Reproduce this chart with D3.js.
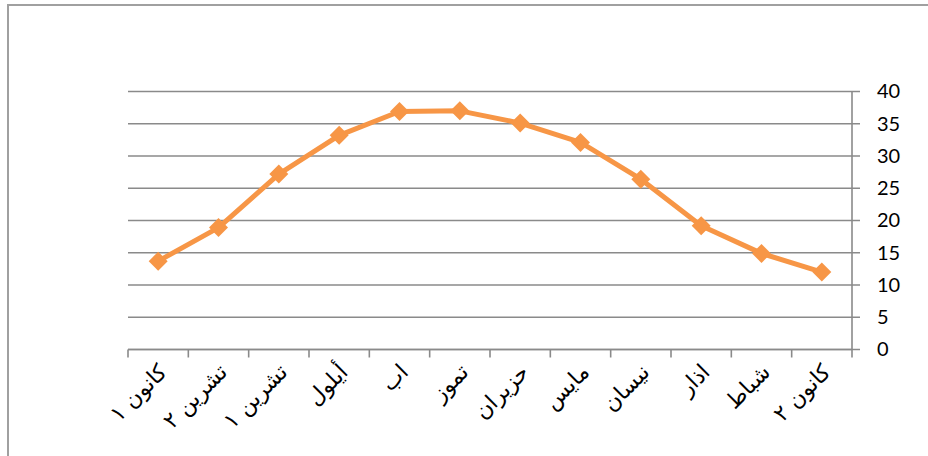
<!DOCTYPE html>
<html>
<head>
<meta charset="utf-8">
<script src="https://cdn.jsdelivr.net/npm/d3@7"></script>
<style>
  body { margin: 0; background: #fff; }
  svg { display: block; }
</style>
</head>
<body>
<svg id="chart" width="928" height="456"></svg>
<script>
// months in calendar order, drawn right to left
const months = ['كانون ٢', 'شباط', 'اذار', 'نيسان', 'مايس', 'حزيران', 'تموز', 'اب', 'أيلول', 'تشرين ١', 'تشرين ٢', 'كانون ١']
const temps = [12.0, 14.9, 19.2, 26.4, 32.1, 35.1, 37.0, 36.9, 33.2, 27.2, 18.9, 13.7]
const yTicks = [0, 5, 10, 15, 20, 25, 30, 35, 40]

const svg = d3.select('#chart')
const margin = { top: 91.5, right: 76, bottom: 106.5, left: 128 }
const width = +svg.attr('width')
const height = +svg.attr('height')
const grey = '#8a8a8a'
const orange = '#f79646'

// outer frame, only its top and left edges show
svg.append('rect')
  .attr('x', 8).attr('y', 5)
  .attr('width', 1000).attr('height', 1000)
  .attr('fill', 'none')
  .attr('stroke', '#a0a0a0')
  .attr('stroke-width', 2)

const x = d3.scaleBand()
  .domain(months.slice().reverse())
  .range([margin.left, width - margin.right])

const y = d3.scaleLinear()
  .domain([0, 40])
  .range([height - margin.bottom, margin.top])

// grid lines, continued through the right axis as ticks
svg.append('g')
  .selectAll('line')
  .data(yTicks)
  .join('line')
    .attr('x1', margin.left)
    .attr('x2', width - margin.right + 8)
    .attr('y1', d => y(d))
    .attr('y2', d => y(d))
    .attr('stroke', grey)
    .attr('stroke-width', 1.6)

const yAxis = g => g
  .attr('transform', `translate(${width - margin.right},0)`)
  .call(d3.axisRight(y).tickValues(yTicks).tickSize(8).tickPadding(17))
  .call(g => g.select('.domain').remove())
  .call(g => g.selectAll('.tick line').remove())
  .call(g => g.selectAll('text')
    .attr('fill', '#000')
    .attr('font-family', 'Lato, "Open Sans", sans-serif')
    .attr('font-size', 20))

svg.append('g').call(yAxis)

// right axis line
svg.append('line')
  .attr('x1', width - margin.right).attr('x2', width - margin.right)
  .attr('y1', y(40)).attr('y2', y(0) + 8)
  .attr('stroke', grey).attr('stroke-width', 1.6)

// bottom axis with ticks at band edges
const edges = months.map((m, i) => margin.left + i * x.bandwidth())
svg.append('line')
  .attr('x1', margin.left).attr('x2', width - margin.right)
  .attr('y1', y(0)).attr('y2', y(0))
  .attr('stroke', grey).attr('stroke-width', 1.6)
svg.append('g')
  .selectAll('line')
  .data(edges)
  .join('line')
    .attr('x1', d => d).attr('x2', d => d)
    .attr('y1', y(0)).attr('y2', y(0) + 8)
    .attr('stroke', grey).attr('stroke-width', 1.6)

svg.append('g')
  .selectAll('text')
  .data(months)
  .join('text')
    .attr('transform', d => `translate(${x(d) + x.bandwidth() / 2 + 10},${y(0) + 24}) rotate(-45)`)
    .attr('text-anchor', 'end')
    .attr('font-family', '"DejaVu Sans", serif')
    .attr('font-size', 22)
    .attr('fill', '#000')
    .text(d => d)

const line = d3.line()
  .x((d, i) => x(months[i]) + x.bandwidth() / 2)
  .y(d => y(d))

svg.append('path')
  .datum(temps)
  .attr('fill', 'none')
  .attr('stroke', orange)
  .attr('stroke-width', 5)
  .attr('stroke-linejoin', 'round')
  .attr('d', line)

svg.append('g')
  .selectAll('path')
  .data(temps)
  .join('path')
    .attr('transform', (d, i) => `translate(${x(months[i]) + x.bandwidth() / 2},${y(d)})`)
    .attr('d', d3.symbol(d3.symbolDiamond2, 230))
    .attr('fill', orange)
</script>
</body>
</html>
